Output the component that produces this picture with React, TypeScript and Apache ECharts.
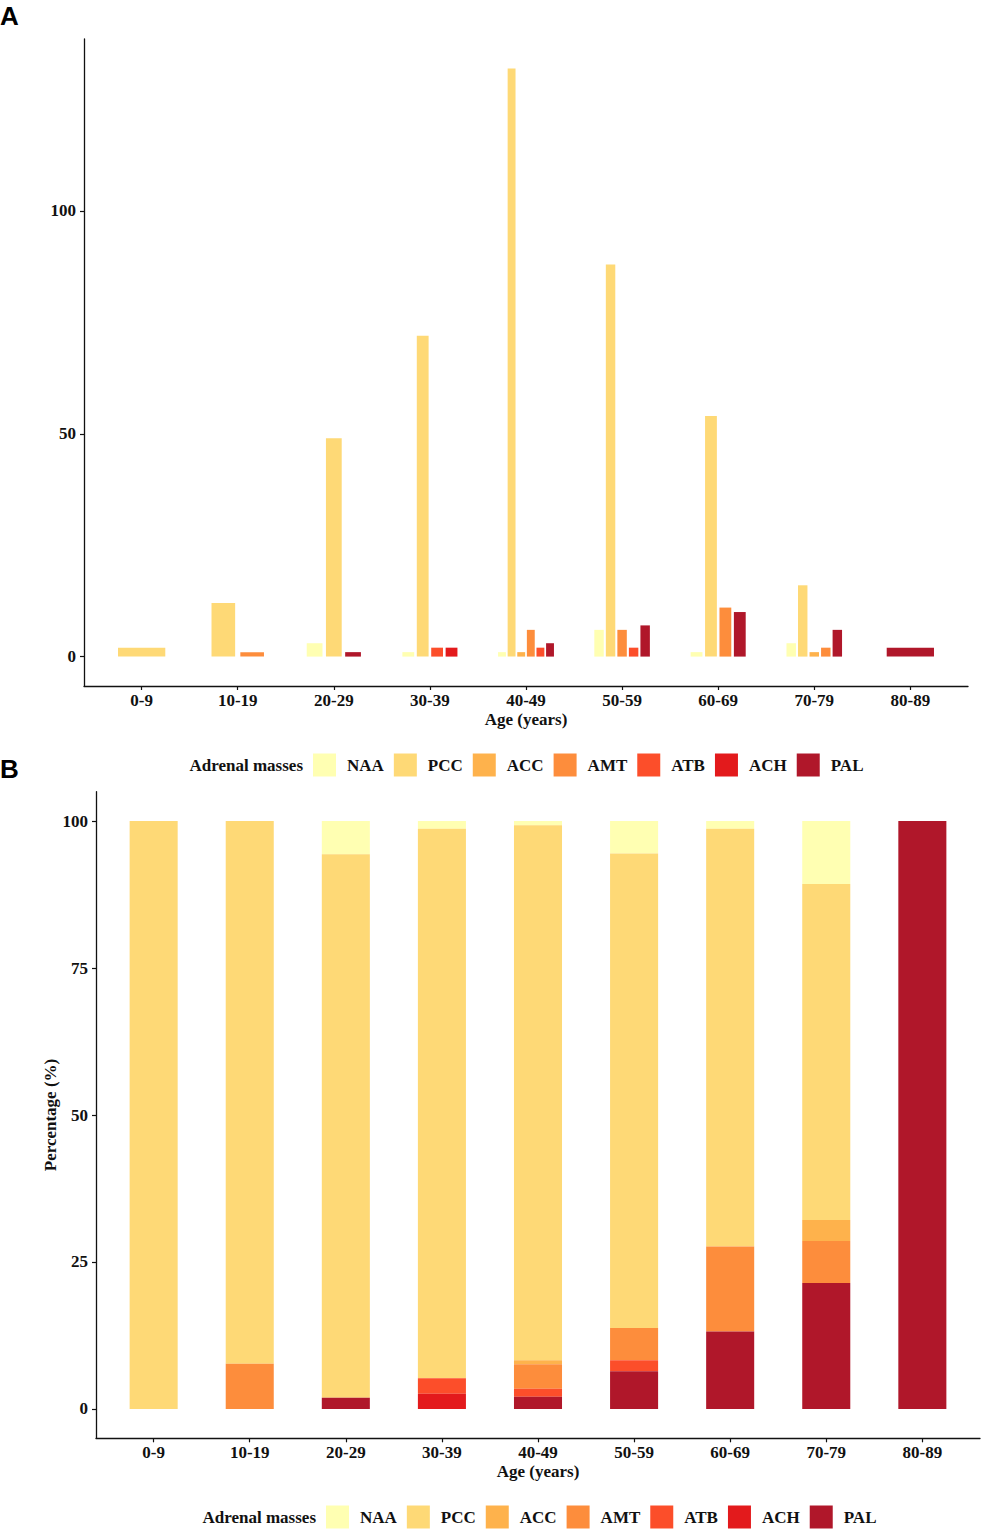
import React, { useEffect, useRef } from "react";
import * as echarts from "echarts";

// ---- data ----
const ageGroups = ["0-9", "10-19", "20-29", "30-39", "40-49", "50-59", "60-69", "70-79", "80-89"];
const massTypes = ["NAA", "PCC", "ACC", "AMT", "ATB", "ACH", "PAL"];
const naaCounts = [0, 0, 3, 1, 1, 6, 1, 3, 0];
const pccCounts = [2, 12, 49, 72, 132, 88, 54, 16, 0];
const accCounts = [0, 0, 0, 0, 1, 0, 0, 1, 0];
const amtCounts = [0, 1, 0, 0, 6, 6, 11, 2, 0];
const atbCounts = [0, 0, 0, 2, 2, 2, 0, 0, 0];
const achCounts = [0, 0, 0, 2, 0, 0, 0, 0, 0];
const palCounts = [0, 0, 1, 0, 3, 7, 10, 6, 2];
const countTicks = [0, 50, 100];
const percentTicks = [0, 25, 50, 75, 100];
const groupTicks = [0, 1, 2, 3, 4, 5, 6, 7, 8];
const legendTitle = "Adrenal masses";
const xTitle = "Age (years)";
const yTitleB = "Percentage (%)";

const colors = ["#FFFFB2", "#FED976", "#FEB24C", "#FD8D3C", "#FC4E2A", "#E31A1C", "#B0172A"];

const SERIF = "'Liberation Serif', 'Times New Roman', serif";
const TXT = "#111";

export default function App() {
  const ref = useRef<HTMLDivElement>(null);
  useEffect(() => {
    if (!ref.current) return;
    const chart = echarts.init(ref.current, null, { renderer: "svg" });
    const counts = [naaCounts, pccCounts, accCounts, amtCounts, atbCounts, achCounts, palCounts];

    // dodge data (panel A)
    const dodgeData = massTypes.map((_, t) => {
      const out: number[][] = [];
      ageGroups.forEach((__, g) => {
        const v = counts[t][g];
        if (v > 0) {
          const present = massTypes.map((___, i) => i).filter((i) => counts[i][g] > 0);
          out.push([g, v, present.indexOf(t), present.length]);
        }
      });
      return out;
    });

    // stacked percent data (panel B); stack bottom-up PAL..NAA
    const totals = ageGroups.map((_, g) => counts.reduce((s, c) => s + c[g], 0));
    const stackOrder = [6, 5, 4, 3, 2, 1, 0];
    const stackData: number[][][] = massTypes.map(() => []);
    ageGroups.forEach((_, g) => {
      let cum = 0;
      stackOrder.forEach((t) => {
        const v = counts[t][g];
        if (v > 0) {
          const p = (v / totals[g]) * 100;
          stackData[t].push([g, cum, cum + p]);
          cum += p;
        }
      });
    });

    const W = 0.6;
    const PAD = 0.18;
    const renderDodge = (color: string) => (params: any, api: any) => {
      const g = api.value(0), v = api.value(1), k = api.value(2), n = api.value(3);
      const slot = W / n;
      const c = g - W / 2 + slot * (k + 0.5);
      const half = (slot * (1 - PAD)) / 2;
      const p0 = api.coord([c - half, v]);
      const p1 = api.coord([c + half, 0]);
      return {
        type: "rect",
        shape: { x: p0[0], y: p0[1], width: p1[0] - p0[0], height: p1[1] - p0[1] },
        style: { fill: color },
      };
    };
    const renderStack = (color: string) => (params: any, api: any) => {
      const g = api.value(0), lo = api.value(1), hi = api.value(2);
      const half = 0.25;
      const p0 = api.coord([g - half, hi]);
      const p1 = api.coord([g + half, lo]);
      return {
        type: "rect",
        shape: { x: p0[0], y: p0[1], width: p1[0] - p0[0], height: p1[1] - p0[1] },
        style: { fill: color },
      };
    };

    const axisLine = { show: true, onZero: false, lineStyle: { color: TXT, width: 1.3 } };
    const labelStyle = { fontFamily: SERIF, fontWeight: "bold" as const, fontSize: 17, color: TXT };
    const makeX = (gridIndex: number) => ({
      type: "value",
      gridIndex,
      min: -0.6,
      max: 8.6,
      position: "bottom",
      axisLine,
      axisTick: { show: true, customValues: groupTicks, length: 4, lineStyle: { color: TXT, width: 1.2 } },
      axisLabel: {
        ...labelStyle,
        customValues: groupTicks,
        margin: 6,
        formatter: (v: number) => ageGroups[Math.round(v)],
      },
      splitLine: { show: false },
      name: xTitle,
      nameLocation: "middle",
      nameGap: 25,
      nameMoveOverlap: false,
      nameTextStyle: { ...labelStyle },
    });
    const makeY = (gridIndex: number, min: number, max: number, ticks: number[], name?: string) => ({
      type: "value",
      gridIndex,
      min,
      max,
      axisLine,
      axisTick: { show: true, customValues: ticks, length: 4, lineStyle: { color: TXT, width: 1.2 } },
      axisLabel: { ...labelStyle, customValues: ticks, margin: 8, formatter: (v: number) => String(Math.round(v)) },
      splitLine: { show: false },
      ...(name
        ? { name, nameLocation: "middle", nameGap: 37, nameMoveOverlap: false, nameTextStyle: { ...labelStyle } }
        : {}),
    });

    const legendBase = {
      orient: "horizontal",
      icon: "rect",
      itemWidth: 23,
      itemHeight: 23,
      itemGap: 10,
      padding: 0,
      selectedMode: false,
      data: massTypes,
      textStyle: { ...labelStyle, padding: [0, 0, 0, 6] },
    };

    const option: any = {
      animation: false,
      backgroundColor: "#fff",
      grid: [
        { left: 84, top: 39, width: 884, height: 647, containLabel: false, outerBoundsMode: "none" },
        { left: 96, top: 791.7, width: 884, height: 646.6, containLabel: false, outerBoundsMode: "none" },
      ],
      xAxis: [makeX(0), makeX(1)],
      yAxis: [makeY(0, -6.6, 138.6, countTicks), makeY(1, -5, 105, percentTicks, yTitleB)],
      legend: [
        { ...legendBase, left: 313, top: 753.5 },
        { ...legendBase, left: 326, top: 1505.5 },
      ],
      graphic: [
        { type: "text", left: 0, top: 3, style: { text: "A", font: "bold 26px 'Liberation Sans', Arial, sans-serif", fill: "#000" } },
        { type: "text", left: 0, top: 756, style: { text: "B", font: "bold 26px 'Liberation Sans', Arial, sans-serif", fill: "#000" } },
        { type: "text", x: 303, y: 765, style: { text: legendTitle, font: `bold 17px ${SERIF}`, fill: TXT, textAlign: "right", textVerticalAlign: "middle" } },
        { type: "text", x: 316, y: 1517, style: { text: legendTitle, font: `bold 17px ${SERIF}`, fill: TXT, textAlign: "right", textVerticalAlign: "middle" } },
      ],
      series: [
        ...massTypes.map((name, t) => ({
          type: "custom",
          name,
          xAxisIndex: 0,
          yAxisIndex: 0,
          itemStyle: { color: colors[t] },
          renderItem: renderDodge(colors[t]),
          encode: { x: 0, y: 1 },
          data: dodgeData[t],
        })),
        ...massTypes.map((name, t) => ({
          type: "custom",
          name,
          xAxisIndex: 1,
          yAxisIndex: 1,
          itemStyle: { color: colors[t] },
          renderItem: renderStack(colors[t]),
          encode: { x: 0, y: 2 },
          data: stackData[t],
        })),
      ],
    };
    chart.setOption(option);
    return () => chart.dispose();
  }, []);
  return (
    <div
      ref={ref}
      style={{ position: "absolute", left: 0, top: 0, width: 984, height: 1535, background: "#fff" }}
    />
  );
}
